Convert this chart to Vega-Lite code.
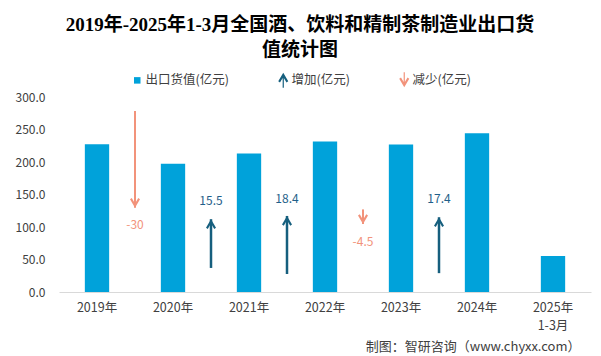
{
  "$schema": "https://vega.github.io/schema/vega-lite/v6.json",
  "width": 532,
  "height": 195,
  "autosize": {"type": "none"},
  "padding": {"left": 59, "top": 97, "right": 10, "bottom": 64},
  "background": "white",
  "title": {
    "text": ["2019年-2025年1-3月全国酒、饮料和精制茶制造业出口货", "值统计图"],
    "anchor": "middle",
    "frame": "group",
    "dx": -25,
    "font": "Liberation Serif, Noto Sans CJK SC",
    "fontSize": 19,
    "fontWeight": "bold",
    "lineHeight": 25,
    "color": "#000000",
    "offset": 13
  },
  "config": {"view": {"stroke": null}, "font": "Noto Sans CJK SC"},
  "datasets": {
    "bars": [
      {"year": "2019年", "value": 227.5},
      {"year": "2020年", "value": 197.5},
      {"year": "2021年", "value": 213.0},
      {"year": "2022年", "value": 231.4},
      {"year": "2023年", "value": 226.9},
      {"year": "2024年", "value": 244.3},
      {"year": "2025年1-3月", "value": 55.4}
    ],
    "arrows": [
      {"year": "2019年", "series": "减少(亿元)", "start": 278.5, "tip": 129.7, "label": "-30", "labelY": 103},
      {"year": "2020年", "series": "增加(亿元)", "start": 37, "tip": 112, "label": "15.5", "labelY": 140.5},
      {"year": "2021年", "series": "增加(亿元)", "start": 27.7, "tip": 117, "label": "18.4", "labelY": 143},
      {"year": "2022年", "series": "减少(亿元)", "start": 126, "tip": 104.6, "label": "-4.5", "labelY": 77},
      {"year": "2023年", "series": "增加(亿元)", "start": 29, "tip": 115, "label": "17.4", "labelY": 143}
    ]
  },
  "layer": [
    {
      "data": {"name": "bars"},
      "mark": {"type": "bar", "color": "#00A2DA", "width": {"band": 0.32}},
      "encoding": {
        "x": {
          "field": "year",
          "type": "nominal",
          "sort": null,
          "scale": {
            "domain": ["2019年", "2020年", "2021年", "2022年", "2023年", "2024年", "2025年1-3月"],
            "paddingInner": 0,
            "paddingOuter": 0
          },
          "axis": {
            "title": "制图：智研咨询（www.chyxx.com）",
            "titleX": 521,
            "titleY": 54,
            "titleAlign": "right",
            "titleBaseline": "middle",
            "titleFontSize": 13,
            "titleFontWeight": "normal",
            "titleColor": "#404040",
            "labelAngle": 0,
            "labelPadding": 9,
            "labelFontSize": 12.5,
            "labelColor": "#404040",
            "labelLineHeight": 18,
            "ticks": false,
            "domainColor": "#D9D9D9",
            "labelExpr": "datum.value === '2025年1-3月' ? ['2025年', '1-3月'] : datum.label"
          }
        },
        "y": {
          "field": "value",
          "type": "quantitative",
          "scale": {"domain": [0, 300]},
          "axis": {"title": null, "grid": false, "domain": false, "ticks": false, "values": [0, 50, 100, 150, 200, 250, 300], "labelOverlap": false, "format": ".1f", "labelPadding": 14, "labelFontSize": 12, "labelColor": "#404040"}
        }
      }
    },
    {
      "data": {"name": "arrows"},
      "mark": {"type": "rule"},
      "encoding": {
        "x": {"field": "year", "type": "nominal", "bandPosition": 1},
        "y": {
          "field": "start",
          "type": "quantitative",
          "axis": {"title": null, "grid": false, "domain": false, "ticks": false, "values": [0, 50, 100, 150, 200, 250, 300], "labelOverlap": false, "format": ".1f", "labelPadding": 14, "labelFontSize": 12, "labelColor": "#404040"}
        },
        "y2": {"field": "tip"},
        "color": {"condition": {"test": "datum.series === '增加(亿元)'", "value": "#165F7E"}, "value": "#F2937B"},
        "strokeWidth": {"condition": {"test": "datum.series === '增加(亿元)'", "value": 2.5}, "value": 2}
      }
    },
    {
      "data": {"name": "arrows"},
      "mark": {
        "type": "point",
        "filled": true,
        "size": 100,
        "opacity": 1,
        "yOffset": {"expr": "datum.series === '增加(亿元)' ? 7 : -7"}
      },
      "encoding": {
        "x": {"field": "year", "type": "nominal", "bandPosition": 1},
        "y": {
          "field": "tip",
          "type": "quantitative",
          "axis": {"title": null, "grid": false, "domain": false, "ticks": false, "values": [0, 50, 100, 150, 200, 250, 300], "labelOverlap": false, "format": ".1f", "labelPadding": 14, "labelFontSize": 12, "labelColor": "#404040"}
        },
        "color": {
          "field": "series",
          "type": "nominal",
          "scale": {
            "domain": ["出口货值(亿元)", "增加(亿元)", "减少(亿元)"],
            "range": ["#00A2DA", "#165F7E", "#F2937B"]
          },
          "legend": {
            "title": null,
            "orient": "none",
            "legendX": 72,
            "legendY": -24,
            "direction": "horizontal",
            "columns": 3,
            "symbolSize": 100,
            "columnPadding": 48,
            "labelOffset": 2,
            "labelFontSize": 12.5,
            "labelColor": "#404040"
          }
        },
        "shape": {
          "field": "series",
          "type": "nominal",
          "scale": {
            "domain": ["出口货值(亿元)", "增加(亿元)", "减少(亿元)"],
            "range": [
              "M-0.65,-0.65L0.65,-0.65L0.65,0.65L-0.65,0.65Z",
              "M0,-1.4L1,0.3L0.65,0.55L0.12,-0.35L0.12,1.6L-0.12,1.6L-0.12,-0.35L-0.65,0.55L-1,0.3Z",
              "M0,1.4L1,-0.3L0.65,-0.55L0.12,0.35L0.12,-1.6L-0.12,-1.6L-0.12,0.35L-0.65,-0.55L-1,-0.3Z"
            ]
          },
          "legend": {
            "title": null,
            "orient": "none",
            "legendX": 72,
            "legendY": -24,
            "direction": "horizontal",
            "columns": 3,
            "symbolSize": 100,
            "columnPadding": 48,
            "labelOffset": 2,
            "labelFontSize": 12.5,
            "labelColor": "#404040"
          }
        }
      }
    },
    {
      "data": {"name": "arrows"},
      "mark": {"type": "text", "fontSize": 12, "baseline": "middle", "align": "center"},
      "encoding": {
        "x": {"field": "year", "type": "nominal", "bandPosition": 1},
        "y": {
          "field": "labelY",
          "type": "quantitative",
          "axis": {"title": null, "grid": false, "domain": false, "ticks": false, "values": [0, 50, 100, 150, 200, 250, 300], "labelOverlap": false, "format": ".1f", "labelPadding": 14, "labelFontSize": 12, "labelColor": "#404040"}
        },
        "text": {"field": "label"},
        "color": {"condition": {"test": "datum.series === '增加(亿元)'", "value": "#1F5F8A"}, "value": "#F2937B"}
      }
    }
  ]
}
